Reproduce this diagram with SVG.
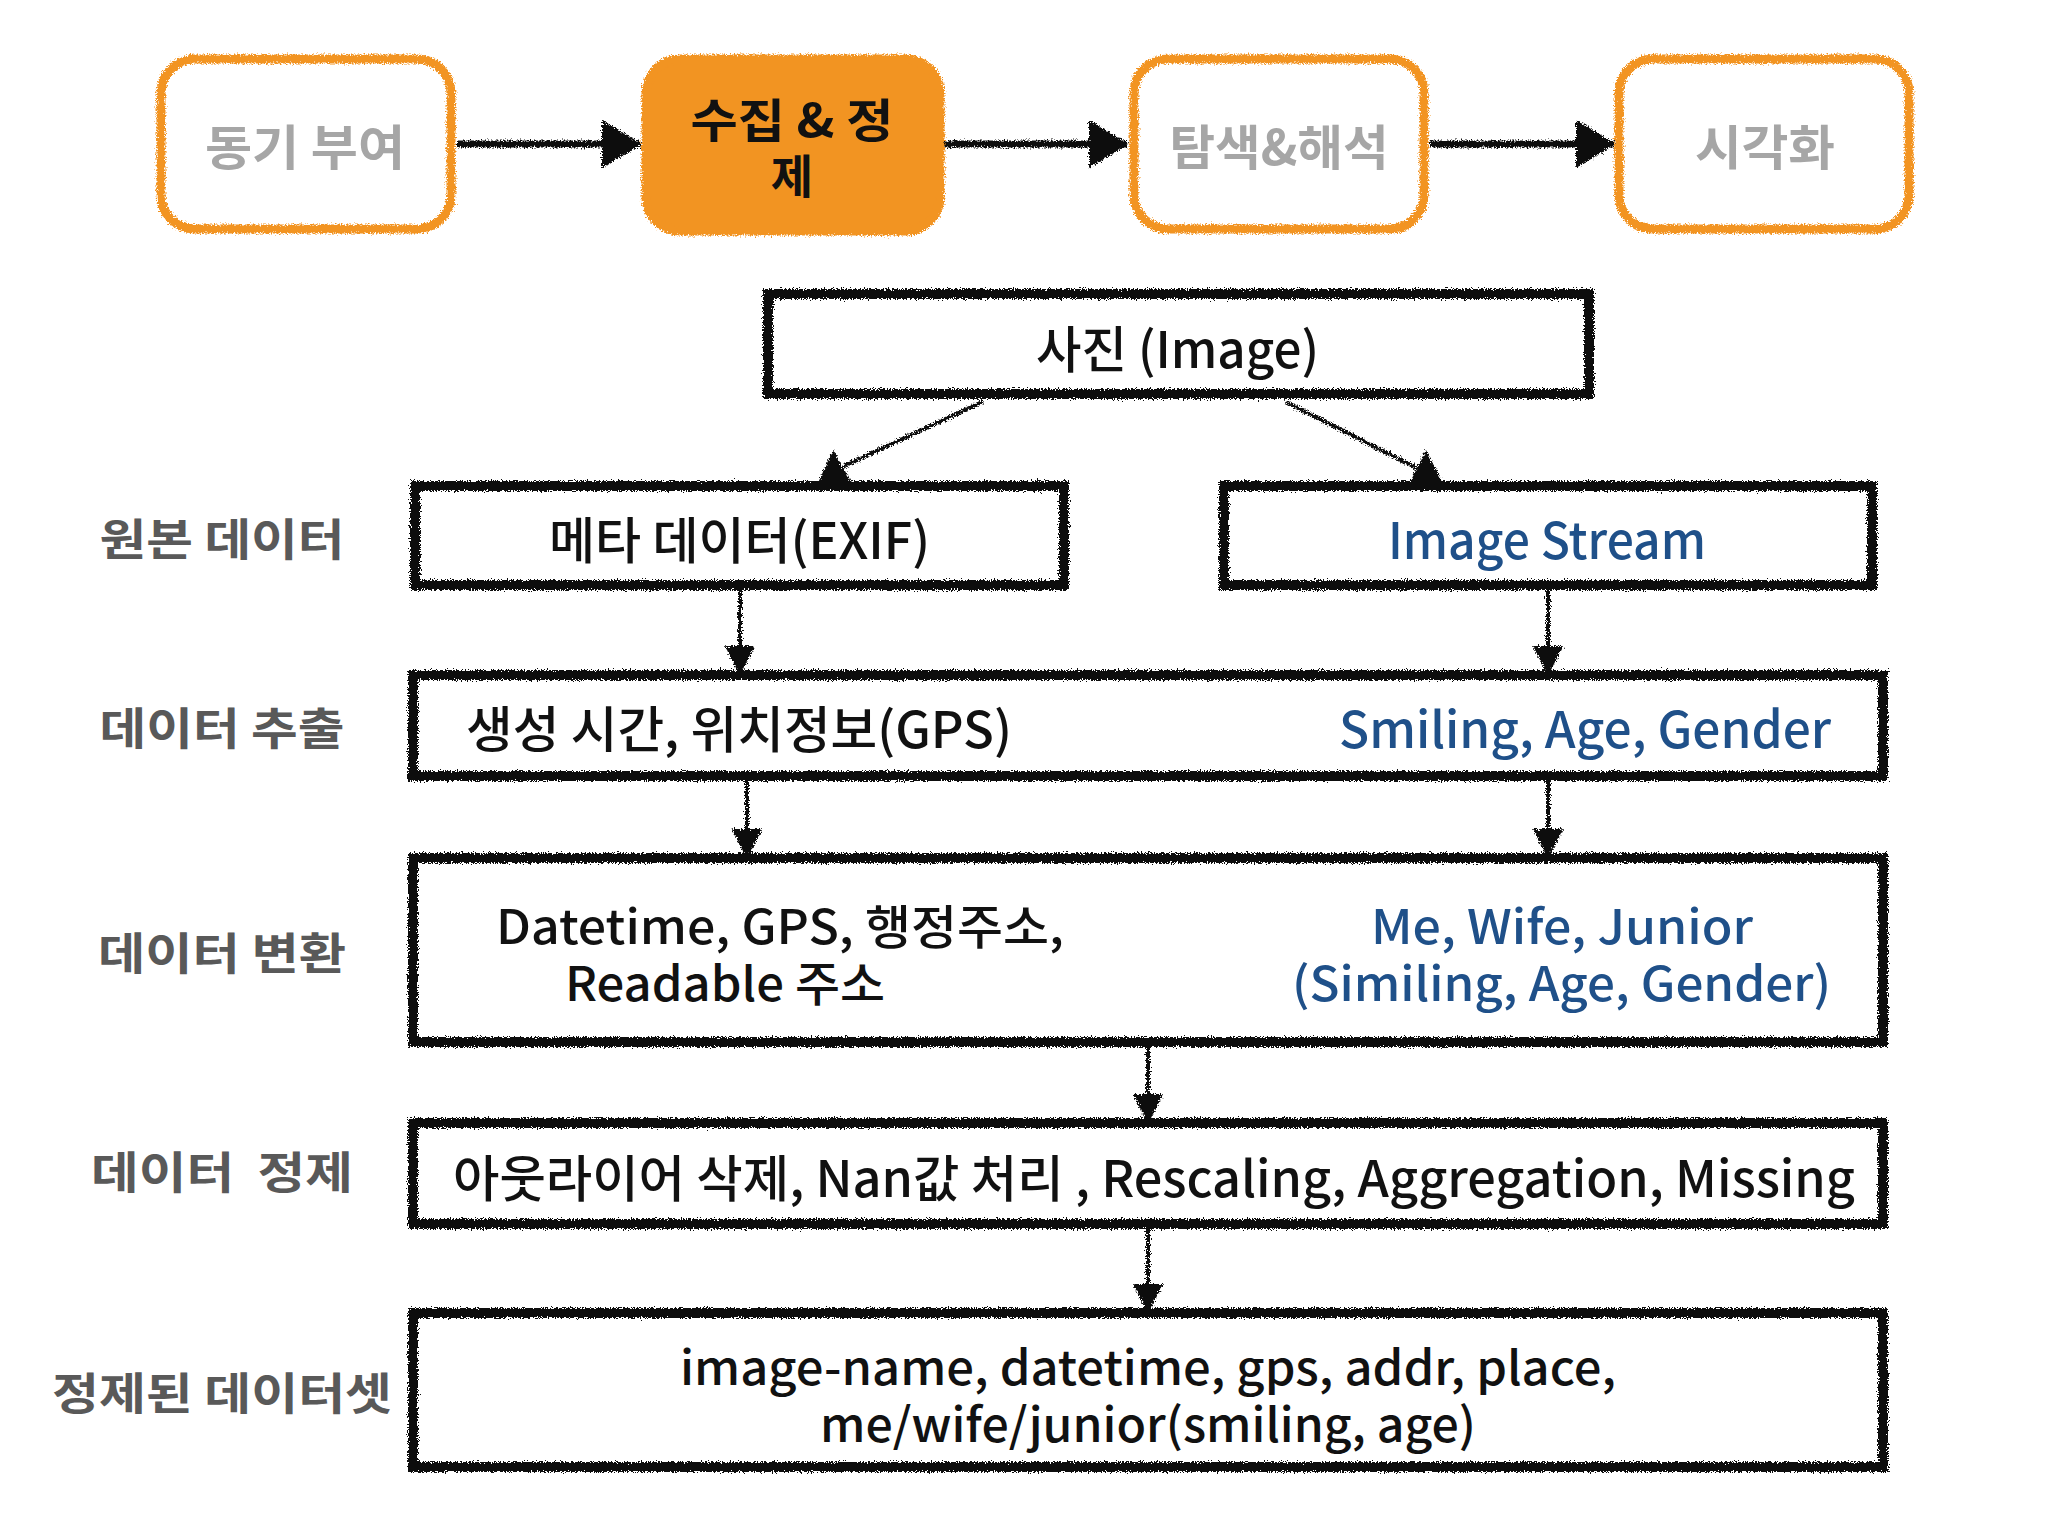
<svg xmlns="http://www.w3.org/2000/svg" width="2048" height="1536" viewBox="0 0 2048 1536">
<defs>
<filter id="rough" filterUnits="userSpaceOnUse" x="0" y="0" width="2048" height="1536">
<feTurbulence type="fractalNoise" baseFrequency="0.7" numOctaves="3" seed="5" result="n"/>
<feDisplacementMap in="SourceGraphic" in2="n" scale="7" xChannelSelector="R" yChannelSelector="G"/>
</filter>
<marker id="ahBig" markerUnits="userSpaceOnUse" markerWidth="44" markerHeight="50" refX="38" refY="25" orient="auto">
<path d="M0,1 L40,25 L0,49 Z" fill="#111"/>
</marker>
<marker id="ah" markerUnits="userSpaceOnUse" markerWidth="30" markerHeight="34" refX="28" refY="17" orient="auto">
<path d="M0,2 L30,17 L0,32 Z" fill="#111"/>
</marker>
<style>
.stage{fill:#fff;stroke:#F29424;stroke-width:9;filter:url(#rough)}
.stage.on{fill:#F29424}
.box{fill:#fff;stroke:#111;stroke-width:10;filter:url(#rough)}
.big{stroke:#111;stroke-width:7;fill:none;marker-end:url(#ahBig);filter:url(#rough)}
.con{stroke:#111;stroke-width:4;fill:none;filter:url(#rough)}
.conA{marker-end:url(#ah)}
.tri{fill:#111;filter:url(#rough)}
text{font-family:"Noto Sans CJK KR","Noto Sans",sans-serif;dominant-baseline:central}
.st{font-size:48px;fill:#A6A6A6;font-weight:bold;text-anchor:middle}
.stOn{font-size:46px;fill:#111;font-weight:bold;text-anchor:middle}
.t{font-size:50px;fill:#111;font-weight:500}
.b{font-size:50px;fill:#1F5089;font-weight:500}
.two{font-size:47px}
.lab{font-size:44px;fill:#595959;font-weight:bold;text-anchor:middle}
</style>
</defs>
<rect width="2048" height="1536" fill="#fff"/>

<g id="connectors">
<line class="big" x1="457" y1="144" x2="640" y2="144"/>
<line class="big" x1="943" y1="144" x2="1127" y2="144"/>
<line class="big" x1="1430" y1="144" x2="1614" y2="144"/>
<line class="con" x1="982" y1="402" x2="844" y2="466"/>
<path class="tri" d="M833,450 L853,485 L817,485 Z"/>
<line class="con" x1="1286" y1="402" x2="1417" y2="468"/>
<path class="tri" d="M1426,450 L1444,485 L1408,485 Z"/>
<line class="con conA" x1="740" y1="590" x2="740" y2="674"/>
<line class="con conA" x1="1548" y1="590" x2="1548" y2="674"/>
<line class="con conA" x1="747" y1="780" x2="747" y2="857"/>
<line class="con conA" x1="1548" y1="780" x2="1548" y2="857"/>
<line class="con conA" x1="1148" y1="1046" x2="1148" y2="1122"/>
<line class="con conA" x1="1148" y1="1229" x2="1148" y2="1312"/>
</g>

<g id="stage-motivation">
<rect class="stage" x="161" y="59" width="290" height="170" rx="34"/>
<text class="st" x="305" y="144" textLength="200" lengthAdjust="spacingAndGlyphs">동기 부여</text>
</g>
<g id="stage-collect">
<rect class="stage on" x="646" y="59" width="294" height="172" rx="34"/>
<text class="stOn" x="792" y="117" textLength="203" lengthAdjust="spacingAndGlyphs">수집 &amp; 정</text>
<text class="stOn" x="792" y="173">제</text>
</g>
<g id="stage-explore">
<rect class="stage" x="1134" y="59" width="290" height="170" rx="34"/>
<text class="st" x="1279" y="144" textLength="219" lengthAdjust="spacingAndGlyphs">탐색&amp;해석</text>
</g>
<g id="stage-visualize">
<rect class="stage" x="1619" y="59" width="290" height="170" rx="34"/>
<text class="st" x="1765" y="144" textLength="140" lengthAdjust="spacingAndGlyphs">시각화</text>
</g>

<g id="label-raw"><text class="lab" x="222" y="537" textLength="245" lengthAdjust="spacingAndGlyphs">원본 데이터</text></g>
<g id="label-extract"><text class="lab" x="222" y="726" textLength="245" lengthAdjust="spacingAndGlyphs">데이터 추출</text></g>
<g id="label-transform"><text class="lab" x="222" y="951" textLength="248" lengthAdjust="spacingAndGlyphs">데이터 변환</text></g>
<g id="label-clean"><text class="lab" x="222" y="1170" textLength="262" lengthAdjust="spacingAndGlyphs" xml:space="preserve">데이터  정제</text></g>
<g id="label-dataset"><text class="lab" x="222" y="1391" textLength="340" lengthAdjust="spacingAndGlyphs">정제된 데이터셋</text></g>

<g id="node-image">
<rect class="box" x="768" y="294" width="821" height="100"/>
<text class="t" x="1036" y="346" textLength="283" lengthAdjust="spacingAndGlyphs">사진 (Image)</text>
</g>
<g id="node-exif">
<rect class="box" x="415" y="486" width="649" height="99"/>
<text class="t" x="549" y="537" textLength="381" lengthAdjust="spacingAndGlyphs">메타 데이터(EXIF)</text>
</g>
<g id="node-stream">
<rect class="box" x="1224" y="486" width="648" height="99"/>
<text class="b" x="1388" y="537" textLength="318" lengthAdjust="spacingAndGlyphs">Image Stream</text>
</g>
<g id="node-extract">
<rect class="box" x="413" y="675" width="1470" height="101"/>
<text class="t" x="466" y="726" textLength="546" lengthAdjust="spacingAndGlyphs">생성 시간, 위치정보(GPS)</text>
<text class="b" x="1339" y="726" textLength="492" lengthAdjust="spacingAndGlyphs">Smiling, Age, Gender</text>
</g>
<g id="node-transform">
<rect class="box" x="413" y="858" width="1470" height="184"/>
<text class="t two" x="496" y="923" textLength="568" lengthAdjust="spacingAndGlyphs">Datetime, GPS, 행정주소,</text>
<text class="t two" x="565" y="980" textLength="320" lengthAdjust="spacingAndGlyphs">Readable 주소</text>
<text class="b two" x="1371" y="923" textLength="382" lengthAdjust="spacingAndGlyphs">Me, Wife, Junior</text>
<text class="b two" x="1292" y="980" textLength="539" lengthAdjust="spacingAndGlyphs">(Similing, Age, Gender)</text>
</g>
<g id="node-clean">
<rect class="box" x="413" y="1123" width="1470" height="101"/>
<text class="t" x="453" y="1175" textLength="1402" lengthAdjust="spacingAndGlyphs">아웃라이어 삭제, Nan값 처리 , Rescaling, Aggregation, Missing</text>
</g>
<g id="node-dataset">
<rect class="box" x="413" y="1313" width="1470" height="154"/>
<text class="t two" x="680" y="1364" textLength="936" lengthAdjust="spacingAndGlyphs">image-name, datetime, gps, addr, place,</text>
<text class="t two" x="820" y="1421" textLength="656" lengthAdjust="spacingAndGlyphs">me/wife/junior(smiling, age)</text>
</g>
</svg>
